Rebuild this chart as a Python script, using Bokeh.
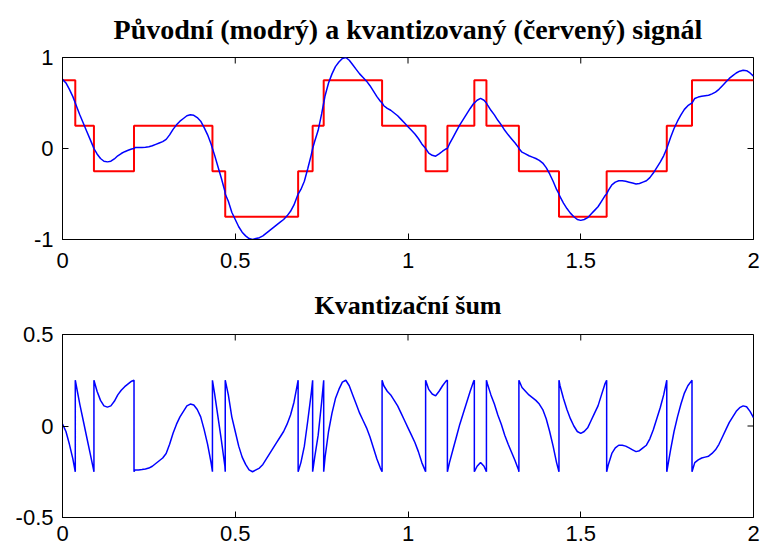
import numpy as np
from bokeh.plotting import figure
from bokeh.models import Range1d, FixedTicker
from bokeh.layouts import column
from bokeh.embed import file_html
from bokeh.resources import INLINE

# sampling grid (seconds): 0 .. 2 in steps of 0.01
t_start, t_step, n_samples = 0.0, 0.01, 201

# original signal, one row per 0.1 s
signal = [
    0.76, 0.72, 0.65, 0.57, 0.47, 0.37, 0.28, 0.19, 0.10, 0.01,
    -0.06, -0.11, -0.14, -0.147, -0.14, -0.115, -0.08, -0.055, -0.035, -0.02,
    -0.005, 0.01, 0.01, 0.012, 0.015, 0.02, 0.03, 0.045, 0.06, 0.075,
    0.10, 0.15, 0.21, 0.26, 0.30, 0.33, 0.36, 0.37, 0.365, 0.34,
    0.30, 0.23, 0.15, 0.05, -0.07, -0.20, -0.33, -0.47, -0.58, -0.70,
    -0.78, -0.86, -0.92, -0.96, -0.99, -1.0, -0.99, -0.98, -0.96, -0.93,
    -0.90, -0.87, -0.84, -0.81, -0.78, -0.74, -0.69, -0.62, -0.52, -0.45,
    -0.36, -0.22, -0.07, 0.08, 0.20, 0.38, 0.58, 0.72, 0.82, 0.90,
    0.95, 0.99, 1.0, 0.97, 0.92, 0.87, 0.82, 0.78, 0.74, 0.69,
    0.63, 0.57, 0.52, 0.47, 0.44, 0.42, 0.39, 0.36, 0.32, 0.28,
    0.24, 0.20, 0.16, 0.11, 0.05, 0.005, -0.05, -0.075, -0.085, -0.06,
    -0.03, -0.005, 0.05, 0.12, 0.19, 0.26, 0.32, 0.38, 0.44, 0.495,
    0.53, 0.55, 0.53, 0.48, 0.42, 0.37, 0.31, 0.26, 0.20, 0.15,
    0.105, 0.06, 0.01, -0.04, -0.06, -0.08, -0.095, -0.11, -0.13, -0.16,
    -0.21, -0.28, -0.36, -0.45, -0.53, -0.60, -0.66, -0.71, -0.75, -0.78,
    -0.79, -0.78, -0.76, -0.72, -0.68, -0.64, -0.58, -0.52, -0.46, -0.40,
    -0.37, -0.355, -0.355, -0.36, -0.37, -0.38, -0.39, -0.385, -0.37, -0.355,
    -0.32, -0.27, -0.21, -0.15, -0.08, 0.01, 0.12, 0.22, 0.30, 0.37,
    0.43, 0.47, 0.495, 0.55, 0.565, 0.575, 0.58, 0.585, 0.60, 0.62,
    0.65, 0.69, 0.73, 0.77, 0.80, 0.83, 0.85, 0.86, 0.855, 0.83,
    0.795,
]

# quantized (red) signal: times of the steps and the level held in each interval
step_times = [0.037, 0.091, 0.207, 0.434, 0.471, 0.682, 0.724, 0.756, 0.925,
              1.051, 1.114, 1.192, 1.227, 1.321, 1.437, 1.575, 1.749, 1.822]
step_levels = [0.75, 0.25, -0.25, 0.25, -0.25, -0.75, -0.25, 0.25, 0.75,
               0.25, -0.25, 0.25, 0.75, 0.25, -0.25, -0.75, -0.25, 0.25, 0.75]

x_ticks = [0, 0.5, 1, 1.5, 2]
x_tick_labels = ["0", "0.5", "1", "1.5", "2"]
y_ticks_top = [-1, 0, 1]
y_tick_labels_top = ["-1", "0", "1"]
y_ticks_bottom = [-0.5, 0, 0.5]
y_tick_labels_bottom = ["-0.5", "0", "0.5"]

title_top = "Původní (modrý) a kvantizovaný (červený) signál"
title_bottom = "Kvantizační šum"

# ---- derived series ----
t = t_start + t_step * np.arange(n_samples)
sig = np.array(signal)
st = np.array(step_times)
lv = np.array(step_levels)
idx = np.searchsorted(st, t, side="right")
q_at_t = lv[idx]

# merge samples with step instants (signal equals the threshold there)
pts_t, pts_s, pts_n = [], [], []
for k in range(n_samples):
    pts_t.append(t[k]); pts_s.append(sig[k]); pts_n.append(sig[k] - q_at_t[k])
    if k + 1 < n_samples:
        for j, ts in enumerate(step_times):
            if t[k] < ts < t[k + 1]:
                thr = (lv[j] + lv[j + 1]) / 2
                pts_t.append(ts); pts_s.append(thr); pts_n.append(thr - lv[j])
                pts_t.append(ts); pts_s.append(thr); pts_n.append(thr - lv[j + 1])

stair_x = [t[0]] + step_times + [t[-1]]
stair_y = step_levels + [step_levels[-1]]

LABEL_FONT = "Liberation Sans"
LABEL_SIZE = "22px"


def style(p, yticks, ylabels, title_size, standoff, x_standoff):
    p.title.text_font = "Liberation Serif"
    p.title.text_font_style = "bold"
    p.title.text_font_size = title_size
    p.title.align = "center"
    p.title.vertical_align = "top"
    p.title.text_color = "black"
    p.title.standoff = standoff
    p.xgrid.visible = False
    p.ygrid.visible = False
    p.outline_line_color = "black"
    p.outline_line_width = 1
    p.background_fill_color = "white"
    p.border_fill_color = "white"
    for ax, tk, lb, so in ((p.xaxis[0], x_ticks, x_tick_labels, x_standoff),
                           (p.yaxis[0], yticks, ylabels, 9)):
        ax.ticker = FixedTicker(ticks=tk)
        ax.major_label_overrides = {v: s for v, s in zip(tk, lb)}
        ax.major_tick_in = 6
        ax.major_tick_out = 0
        ax.minor_tick_line_color = None
        ax.axis_line_color = "black"
        ax.major_tick_line_color = "black"
        ax.major_label_text_font = LABEL_FONT
        ax.major_label_text_font_size = LABEL_SIZE
        ax.major_label_text_color = "black"
        ax.major_label_standoff = so
    # inward ticks on the top and right edges of the box
    ymax = p.y_range.end
    xmax = p.x_range.end
    p.ray(x=x_ticks, y=[ymax] * len(x_ticks), length=6, length_units="screen",
          angle=-np.pi / 2, line_color="black", line_width=1)
    p.ray(x=[xmax] * len(yticks), y=yticks, length=6, length_units="screen",
          angle=np.pi, line_color="black", line_width=1)


p1 = figure(width=761, height=278, output_backend="svg", toolbar_location=None,
            x_range=Range1d(0, 2), y_range=Range1d(-1, 1), title=title_top,
            min_border_left=62, min_border_right=8, min_border_top=57, min_border_bottom=39)
style(p1, y_ticks_top, y_tick_labels_top, "28px", 21, 13)
p1.step(stair_x, stair_y, mode="after", line_color="#FF0000", line_width=2)
p1.line(pts_t, pts_s, line_color="#0000FF", line_width=1.5)

p2 = figure(width=761, height=272, output_backend="svg", toolbar_location=None,
            x_range=Range1d(0, 2), y_range=Range1d(-0.5, 0.5), title=title_bottom,
            min_border_left=62, min_border_right=8, min_border_top=55, min_border_bottom=33)
style(p2, y_ticks_bottom, y_tick_labels_bottom, "26px", 25, 8)
p2.line(pts_t, pts_n, line_color="#0000FF", line_width=1.5)

layout = column(p1, p2, spacing=0)
open("out.html", "w").write(file_html(layout, INLINE))
